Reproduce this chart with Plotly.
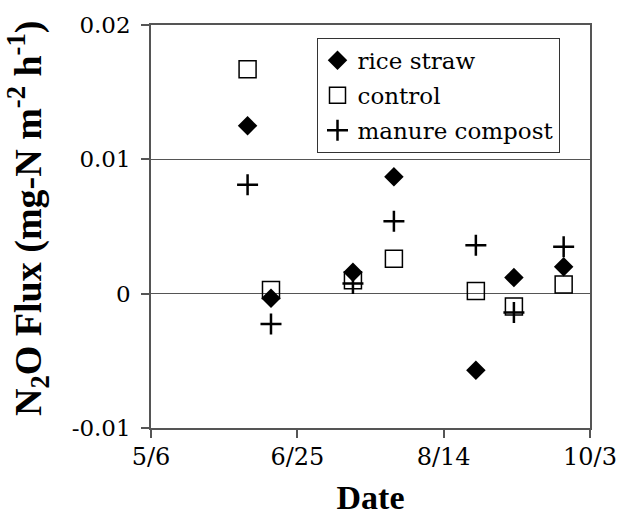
import plotly.graph_objects as go

dates = ["2003-06-08", "2003-06-16", "2003-07-14", "2003-07-28",
         "2003-08-25", "2003-09-07", "2003-09-24"]
rice_straw = [0.0125, -0.00035, 0.0016, 0.0087, -0.0057, 0.0012, 0.0020]
control = [0.0167, 0.00027, 0.0010, 0.0026, 0.0002, -0.00096, 0.00068]
manure_compost = [0.0081, -0.00225, 0.00076, 0.0054, 0.0036, -0.0014, 0.0035]

x_tickvals = ["2003-05-06", "2003-06-25", "2003-08-14", "2003-10-03"]
x_ticktext = ["5/6", "6/25", "8/14", "10/3"]
y_tickvals = [-0.01, 0, 0.01, 0.02]
y_ticktext = ["-0.01", "0", "0.01", "0.02"]

serif_bold = "Liberation Serif"
serif_reg = "DejaVu Serif"
axcol = "#555555"

fig = go.Figure()
fig.add_trace(go.Scatter(x=dates, y=rice_straw, mode="markers", name="rice straw",
                         legendgroup="a",
                         marker=dict(symbol="diamond", size=15, color="black",
                                     line=dict(width=0))))
fig.add_trace(go.Scatter(x=dates, y=control, mode="markers", name="control",
                         legendgroup="b",
                         marker=dict(symbol="square-open", size=17, color="black",
                                     line=dict(width=1.5, color="black"))))
fig.add_trace(go.Scatter(x=dates, y=manure_compost, mode="markers", name="manure compost",
                         legendgroup="c",
                         marker=dict(symbol="cross-thin", size=15, color="black",
                                     line=dict(width=2.5, color="black"))))

fig.update_layout(
    width=629, height=523,
    margin=dict(l=151, r=38, t=20, b=95),
    plot_bgcolor="white", paper_bgcolor="white",
    font=dict(family=serif_reg, size=23, color="black"),
    showlegend=True,
    legend=dict(x=0.377, y=0.968, xanchor="left", yanchor="top",
                bordercolor="#333333", borderwidth=1, bgcolor="white",
                font=dict(family=serif_reg, size=23, color="black"),
                traceorder="grouped", tracegroupgap=2, itemsizing="trace",
                entrywidth=244, entrywidthmode="pixels"),
    xaxis=dict(
        type="date",
        range=["2003-05-06", "2003-10-03"],
        tickvals=x_tickvals, ticktext=x_ticktext,
        showgrid=False, zeroline=False,
        showline=True, mirror=True, linecolor=axcol, linewidth=1.5,
        ticks="outside", ticklen=8, tickcolor=axcol, tickwidth=1.5,
        tickfont=dict(family=serif_reg, size=24, color="black"),
        ticklabelstandoff=-2,
        title=dict(text="<b>Date</b>", font=dict(family=serif_bold, size=34, color="black"),
                   standoff=16),
    ),
    yaxis=dict(
        range=[-0.01, 0.02],
        tickvals=y_tickvals, ticktext=y_ticktext,
        showgrid=True, gridcolor=axcol, gridwidth=1, zeroline=False,
        showline=True, mirror=True, linecolor=axcol, linewidth=1.5,
        ticks="outside", ticklen=8, tickcolor=axcol, tickwidth=1.5,
        tickfont=dict(family=serif_reg, size=23, color="black"),
        ticklabelstandoff=6,
    ),
    annotations=[dict(
        text="<b>N<sub>2</sub>O Flux (mg-N m<sup>-2</sup> h<sup>-1</sup>)</b>",
        xref="paper", yref="paper", x=-0.279, y=0.52, xanchor="center", yanchor="middle",
        textangle=-90, showarrow=False,
        font=dict(family=serif_bold, size=38, color="black"),
    )],
)

fig.write_html("out.html")
